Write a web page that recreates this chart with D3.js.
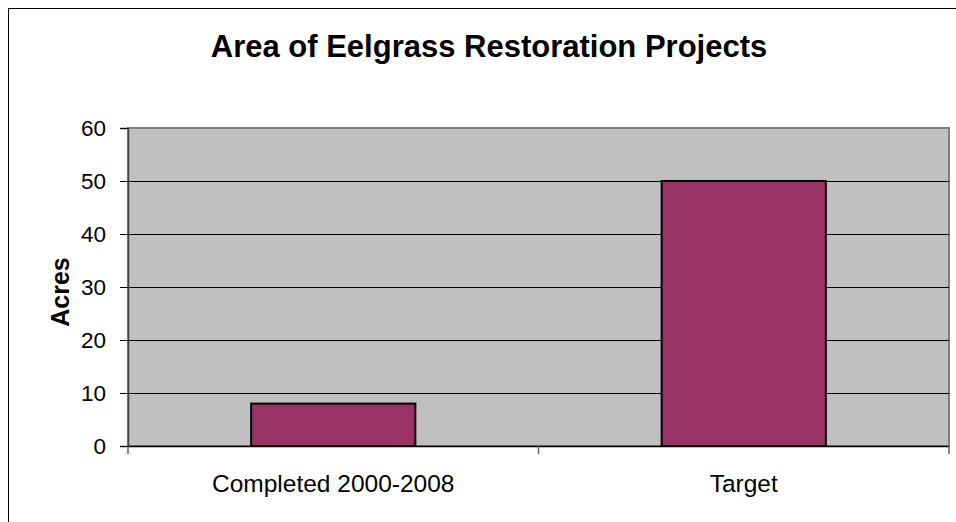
<!DOCTYPE html>
<html><head><meta charset="utf-8">
<script src="https://cdn.jsdelivr.net/npm/d3@7"></script>
<style>body{margin:0;background:#fff;} text{font-family:Arial,"Liberation Sans",sans-serif;}</style>
</head><body><svg id="c" width="956" height="522"></svg>
<script>
const categories = ["Completed 2000-2008", "Target"];
const values = [8, 50];
const yTicks = [0, 10, 20, 30, 40, 50, 60];
const title = "Area of Eelgrass Restoration Projects";
const yTitle = "Acres";

const svg = d3.select("#c");
const L = 128, R = 949, T = 128, B = 446;
svg.append("rect").attr("x", 8.5).attr("y", 8.5).attr("width", 1000).attr("height", 600)
  .attr("fill", "#fff").attr("stroke", "#000").attr("stroke-width", 1);

const xOuter = d3.scaleBand().domain(categories).range([L, R]);
const y = d3.scaleLinear().domain([0, 60]).range([B, T]);

svg.append("rect").attr("x", L).attr("y", T).attr("width", R - L).attr("height", B - T)
  .attr("fill", "#c0c0c0").attr("stroke", "#808080").attr("stroke-width", 2);

svg.append("g").selectAll("line").data(yTicks.filter(d => d > 0 && d < 60)).join("line")
  .attr("x1", L).attr("x2", R).attr("y1", d => Math.round(y(d)) + 0.5).attr("y2", d => Math.round(y(d)) + 0.5)
  .attr("stroke", "#000").attr("stroke-width", 1);

svg.append("g").selectAll("rect").data(values).join("rect")
  .attr("x", (d, i) => xOuter(categories[i]) + xOuter.bandwidth() * 0.3)
  .attr("width", xOuter.bandwidth() * 0.4)
  .attr("y", d => y(d)).attr("height", d => B - y(d))
  .attr("fill", "#993366").attr("stroke", "#000").attr("stroke-width", 2);

// y axis
const yAxis = d3.axisLeft(y).tickValues(yTicks).tickSize(8).tickPadding(14).tickFormat(d3.format("d"));
const ga = svg.append("g").attr("transform", `translate(${L},0)`).call(yAxis);
ga.select(".domain").attr("stroke", "#404040").attr("stroke-width", 1.5);
ga.selectAll(".tick line").attr("stroke", "#000");
ga.selectAll(".tick text").attr("font-size", 22.5).attr("fill", "#000").attr("font-family", "Arial, 'Liberation Sans', sans-serif");

// x axis
svg.append("line").attr("x1", L).attr("x2", R).attr("y1", B + 0.5).attr("y2", B + 0.5).attr("stroke", "#000").attr("stroke-width", 1.5);
const xt = [L, (L + R) / 2, R];
svg.append("g").selectAll("line").data(xt).join("line")
  .attr("x1", d => d).attr("x2", d => d).attr("y1", B).attr("y2", B + 8)
  .attr("stroke", "#606060").attr("stroke-width", 1.5);
svg.append("g").selectAll("text").data(categories).join("text")
  .attr("x", d => xOuter(d) + xOuter.bandwidth() / 2).attr("y", 492)
  .attr("text-anchor", "middle").attr("font-size", 24.5).text(d => d);

svg.append("text").attr("x", 489).attr("y", 57).attr("text-anchor", "middle")
  .attr("font-size", 31).attr("font-weight", "bold").text(title);

svg.append("text").attr("transform", "translate(69,292) rotate(-90)").attr("text-anchor", "middle")
  .attr("font-size", 25).attr("font-weight", "bold").text(yTitle);
</script></body></html>
